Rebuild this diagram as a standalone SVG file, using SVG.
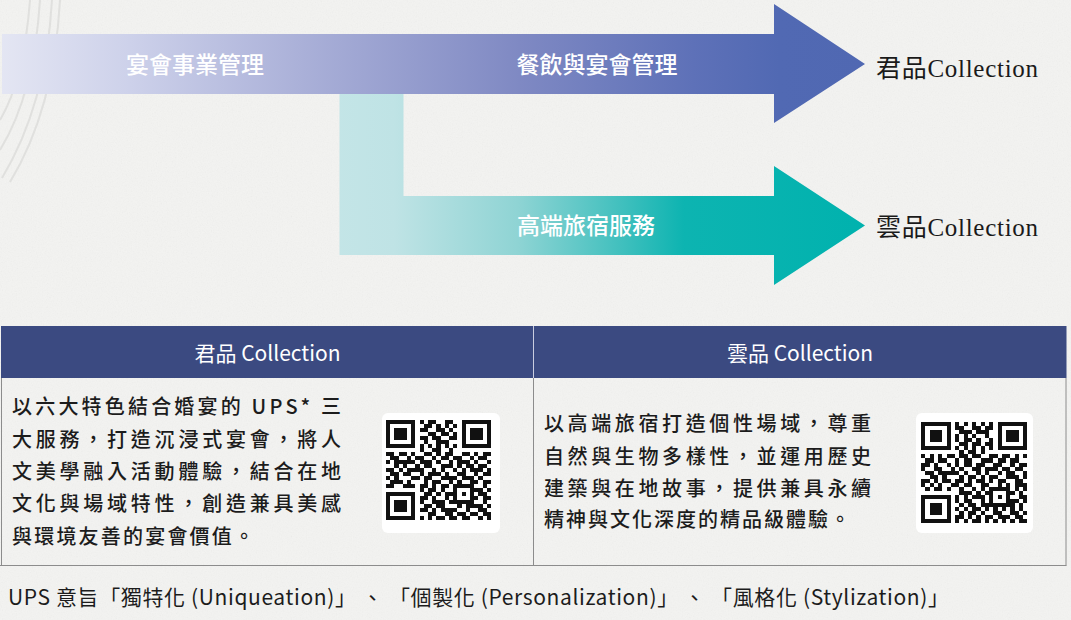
<svg xmlns="http://www.w3.org/2000/svg" xmlns:xlink="http://www.w3.org/1999/xlink" width="1071" height="620" viewBox="0 0 1071 620">
  <style>
    .arrowtxt { font-family: "Noto Sans CJK TC", "Noto Sans", sans-serif; font-size: 23px; font-weight: 500; fill: #ffffff; text-anchor: middle; }
    .label { font-family: "Liberation Serif", "Noto Sans CJK TC", serif; font-size: 25px; fill: #1a1a1a; }
    .head { font-family: "Noto Sans CJK TC", "Noto Sans", sans-serif; font-size: 21px; fill: #ffffff; text-anchor: middle; }
    .body { font-family: "Noto Sans CJK TC", "Noto Sans", sans-serif; font-size: 20px; font-weight: 500; fill: #1c1c1c; }
    .foot { font-family: "Noto Sans CJK TC", "Noto Sans", sans-serif; font-size: 21px; fill: #1c1c1c; }
    .grid { stroke: #8c8c8c; stroke-width: 1; fill: none; }
    .qrbox { fill: #ffffff; }
    .qr { fill: #111111; }
    .arc { fill: none; stroke: #cfd0ce; stroke-width: 2; opacity: 0.5; }
  </style>
  <defs>
    <linearGradient id="gTop" gradientUnits="userSpaceOnUse" x1="0" y1="0" x2="866" y2="0">
      <stop offset="0" stop-color="#e4e6f3"/>
      <stop offset="0.15" stop-color="#cdd1ea"/>
      <stop offset="0.35" stop-color="#aab0d8"/>
      <stop offset="0.6" stop-color="#7f89c3"/>
      <stop offset="0.8" stop-color="#5e71b8"/>
      <stop offset="0.9" stop-color="#5169b3"/>
      <stop offset="1" stop-color="#5068b2"/>
    </linearGradient>
    <linearGradient id="gBot" gradientUnits="userSpaceOnUse" x1="330" y1="0" x2="866" y2="0">
      <stop offset="0" stop-color="#c4e5e7"/>
      <stop offset="0.12" stop-color="#bfe3e5"/>
      <stop offset="0.35" stop-color="#8fd4d4"/>
      <stop offset="0.55" stop-color="#3ebfbd"/>
      <stop offset="0.66" stop-color="#0db4b1"/>
      <stop offset="1" stop-color="#00b2ae"/>
    </linearGradient>
    <filter id="noise" x="0" y="0" width="100%" height="100%">
      <feTurbulence type="fractalNoise" baseFrequency="0.8" numOctaves="3" seed="5" stitchTiles="stitch"/>
      <feColorMatrix type="saturate" values="0"/>
    </filter>
    <path id="qr" d="M0 0h7v1h-7zM8 0h1v1h-1zM10 0h2v1h-2zM14 0h2v1h-2zM18 0h7v1h-7z
M0 1h1v1h-1zM6 1h1v1h-1zM9 1h2v1h-2zM12 1h1v1h-1zM14 1h1v1h-1zM16 1h1v1h-1zM18 1h1v1h-1zM24 1h1v1h-1z
M0 2h1v1h-1zM2 2h3v1h-3zM6 2h1v1h-1zM8 2h2v1h-2zM12 2h2v1h-2zM15 2h1v1h-1zM18 2h1v1h-1zM20 2h3v1h-3zM24 2h1v1h-1z
M0 3h1v1h-1zM2 3h3v1h-3zM6 3h1v1h-1zM10 3h2v1h-2zM13 3h2v1h-2zM16 3h1v1h-1zM18 3h1v1h-1zM20 3h3v1h-3zM24 3h1v1h-1z
M0 4h1v1h-1zM2 4h3v1h-3zM6 4h1v1h-1zM8 4h2v1h-2zM11 4h2v1h-2zM15 4h2v1h-2zM18 4h1v1h-1zM20 4h3v1h-3zM24 4h1v1h-1z
M0 5h1v1h-1zM6 5h1v1h-1zM9 5h1v1h-1zM12 5h3v1h-3zM18 5h1v1h-1zM24 5h1v1h-1z
M0 6h7v1h-7zM8 6h1v1h-1zM10 6h1v1h-1zM12 6h1v1h-1zM14 6h1v1h-1zM16 6h1v1h-1zM18 6h7v1h-7z
M8 7h1v1h-1zM11 7h2v1h-2zM15 7h1v1h-1z
M0 8h2v1h-2zM3 8h2v1h-2zM6 8h1v1h-1zM9 8h2v1h-2zM12 8h1v1h-1zM14 8h2v1h-2zM18 8h2v1h-2zM21 8h1v1h-1zM23 8h2v1h-2z
M1 9h2v1h-2zM5 9h1v1h-1zM7 9h2v1h-2zM11 9h1v1h-1zM13 9h2v1h-2zM16 9h2v1h-2zM20 9h1v1h-1zM22 9h2v1h-2z
M0 10h1v1h-1zM2 10h5v1h-5zM8 10h3v1h-3zM12 10h1v1h-1zM15 10h1v1h-1zM17 10h3v1h-3zM21 10h1v1h-1zM24 10h1v1h-1z
M2 11h1v1h-1zM4 11h1v1h-1zM7 11h1v1h-1zM9 11h2v1h-2zM13 11h3v1h-3zM17 11h1v1h-1zM19 11h2v1h-2zM22 11h2v1h-2z
M0 12h2v1h-2zM3 12h1v1h-1zM5 12h4v1h-4zM11 12h1v1h-1zM13 12h1v1h-1zM16 12h1v1h-1zM18 12h1v1h-1zM20 12h3v1h-3zM24 12h1v1h-1z
M1 13h2v1h-2zM4 13h2v1h-2zM8 13h1v1h-1zM10 13h3v1h-3zM14 13h1v1h-1zM17 13h2v1h-2zM21 13h1v1h-1zM23 13h2v1h-2z
M0 14h1v1h-1zM2 14h1v1h-1zM6 14h2v1h-2zM9 14h2v1h-2zM13 14h4v1h-4zM18 14h3v1h-3zM22 14h1v1h-1z
M1 15h3v1h-3zM5 15h1v1h-1zM9 15h1v1h-1zM11 15h2v1h-2zM15 15h1v1h-1zM17 15h1v1h-1zM20 15h2v1h-2zM23 15h2v1h-2z
M0 16h2v1h-2zM4 16h3v1h-3zM8 16h2v1h-2zM11 16h1v1h-1zM13 16h2v1h-2zM16 16h5v1h-5zM23 16h1v1h-1z
M8 17h1v1h-1zM10 17h2v1h-2zM13 17h1v1h-1zM16 17h1v1h-1zM20 17h3v1h-3zM24 17h1v1h-1z
M0 18h7v1h-7zM9 18h2v1h-2zM12 18h1v1h-1zM14 18h3v1h-3zM18 18h1v1h-1zM20 18h1v1h-1zM22 18h2v1h-2z
M0 19h1v1h-1zM6 19h1v1h-1zM8 19h2v1h-2zM11 19h1v1h-1zM14 19h1v1h-1zM16 19h1v1h-1zM20 19h2v1h-2zM23 19h2v1h-2z
M0 20h1v1h-1zM2 20h3v1h-3zM6 20h1v1h-1zM8 20h1v1h-1zM11 20h3v1h-3zM15 20h6v1h-6zM23 20h1v1h-1z
M0 21h1v1h-1zM2 21h3v1h-3zM6 21h1v1h-1zM9 21h2v1h-2zM12 21h2v1h-2zM17 21h1v1h-1zM19 21h4v1h-4zM24 21h1v1h-1z
M0 22h1v1h-1zM2 22h3v1h-3zM6 22h1v1h-1zM8 22h2v1h-2zM11 22h1v1h-1zM13 22h4v1h-4zM19 22h1v1h-1zM22 22h2v1h-2z
M0 23h1v1h-1zM6 23h1v1h-1zM10 23h2v1h-2zM14 23h2v1h-2zM17 23h2v1h-2zM20 23h2v1h-2zM23 23h2v1h-2z
M0 24h7v1h-7zM8 24h1v1h-1zM10 24h1v1h-1zM12 24h2v1h-2zM15 24h2v1h-2zM18 24h2v1h-2zM22 24h1v1h-1zM24 24h1v1h-1z"/>
  </defs>

  <!-- background -->
  <rect x="0" y="0" width="1071" height="620" fill="#f3f3f1"/>
  <rect x="0" y="0" width="1071" height="620" filter="url(#noise)" opacity="0.07"/>
  <g id="decor">
    <path class="arc" d="M52 0 Q46 105 2 178"/>
    <path class="arc" d="M60 0 Q54 110 10 182"/>
    <path class="arc" d="M40 0 Q34 95 0 150"/>
    <path class="arc" d="M30 0 Q24 80 0 120"/>
  </g>

  <!-- connectors (arrows) -->
  <g id="connectors">
    <path id="arrow-bottom" d="M339.5 94 H403.5 V196 H774 V166 L865 225.5 L774 285 V255 H339.5 Z" fill="url(#gBot)"/>
    <path id="arrow-top" d="M2 34 H774 V4 L865 64 L774 123 V94 H2 Z" fill="url(#gTop)"/>
  </g>

  <g id="node-arrow-labels">
    <text class="arrowtxt" x="195" y="72.5">宴會事業管理</text>
    <text class="arrowtxt" x="597" y="72.5">餐飲與宴會管理</text>
    <text class="arrowtxt" x="586" y="233.5">高端旅宿服務</text>
  </g>

  <g id="node-junpin">
    <text class="label" x="876" y="77" textLength="162" lengthAdjust="spacing">君品Collection</text>
  </g>
  <g id="node-yunpin">
    <text class="label" x="876" y="235.5" textLength="162" lengthAdjust="spacing">雲品Collection</text>
  </g>

  <!-- table -->
  <g id="table">
    <rect x="1" y="326" width="1065.5" height="52" fill="#3b4a81"/>
    <line x1="533.5" y1="326" x2="533.5" y2="378" stroke="#c9cde0" stroke-width="1"/>
    <path class="grid" d="M1.5 378 V565.5 M533.5 378 V565.5 M1066 378 V565.5 M0 565.5 H1066.5"/>
    <text class="head" x="267.5" y="360.5">君品 Collection</text>
    <text class="head" x="800" y="360.5">雲品 Collection</text>
  </g>

  <g id="cell-junpin">
    <text class="body" x="12" y="414" textLength="329" lengthAdjust="spacing">以六大特色結合婚宴的 UPS* 三</text>
    <text class="body" x="12" y="447" textLength="329" lengthAdjust="spacing">大服務，打造沉浸式宴會，將人</text>
    <text class="body" x="12" y="479" textLength="329" lengthAdjust="spacing">文美學融入活動體驗，結合在地</text>
    <text class="body" x="12" y="511" textLength="329" lengthAdjust="spacing">文化與場域特性，創造兼具美感</text>
    <text class="body" x="12" y="543.5" textLength="242" lengthAdjust="spacing">與環境友善的宴會價值。</text>
    <rect class="qrbox" x="382" y="413" width="118" height="120" rx="6"/>
    <use xlink:href="#qr" href="#qr" class="qr" transform="translate(386,420) scale(4.2,4)" shape-rendering="crispEdges"/>
  </g>

  <g id="cell-yunpin">
    <text class="body" x="544" y="431" textLength="327" lengthAdjust="spacing">以高端旅宿打造個性場域，尊重</text>
    <text class="body" x="544" y="463.5" textLength="327" lengthAdjust="spacing">自然與生物多樣性，並運用歷史</text>
    <text class="body" x="544" y="495.5" textLength="327" lengthAdjust="spacing">建築與在地故事，提供兼具永續</text>
    <text class="body" x="544" y="527" textLength="306" lengthAdjust="spacing">精神與文化深度的精品級體驗。</text>
    <rect class="qrbox" x="916" y="413" width="117" height="120" rx="6"/>
    <use xlink:href="#qr" href="#qr" class="qr" transform="matrix(0,4.05,4.25,0,921,422)" shape-rendering="crispEdges"/>
  </g>

  <g id="footnote">
    <text class="foot" x="8" y="605" textLength="941" lengthAdjust="spacing">UPS 意旨「獨特化 (Uniqueation)」 、 「個製化 (Personalization)」 、 「風格化 (Stylization)」</text>
  </g>
</svg>
